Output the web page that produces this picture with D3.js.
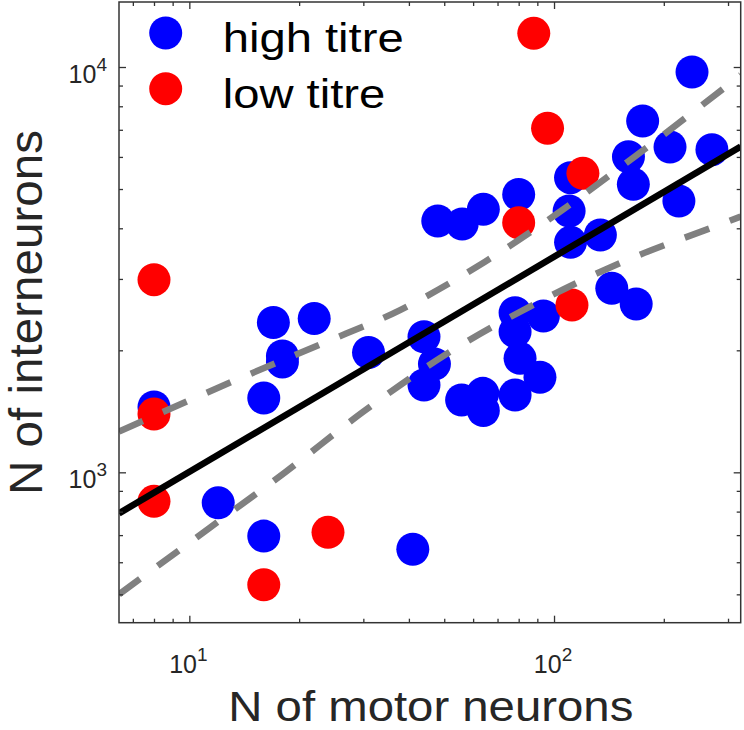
<!DOCTYPE html>
<html>
<head>
<meta charset="utf-8">
<script src="https://cdn.jsdelivr.net/npm/d3@7"></script>
<style>
  html, body { margin: 0; padding: 0; background: #fff; }
  svg { display: block; }
  text { font-family: "Liberation Sans", Arial, sans-serif; fill: #262626; }
</style>
</head>
<body>
<svg id="chart" width="744" height="730"></svg>
<script>
// ---- data ----
const xDomain = [6.414, 325];
const yDomain = [425.6, 14467];

const highX = [8, 12, 16, 16, 17, 22, 18, 18, 31, 41,
               44, 47, 44, 48, 56, 64, 80, 55.8, 63.8, 64,
               78.2, 93.5, 78.2, 80.7, 91.5, 78.2, 239, 175, 208, 271,
               160, 165, 111, 110, 220, 111, 134, 144, 168];
const highY = [1449, 841, 696, 1525, 2342, 2396, 1936, 1872, 1975, 646,
               2160, 1850, 1642, 4169, 4099, 4456, 4846, 1508, 1566, 1421,
               2476, 2430, 2223, 1911, 1716, 1551, 9720, 7360, 6347, 6252,
               6007, 5135, 5332, 4413, 4671, 3694, 3850, 2844, 2602];

const lowX = [88, 96, 120, 80, 112, 8, 8, 8, 24, 16];
const lowY = [12110, 7060, 5467, 4130, 2588, 2987, 1392, 848, 711, 528];

const fitX = [6.414, 325];
const fitY = [792, 6360];

const upperX = [6.414, 13.09, 22.97, 37.83, 64.7, 102.6, 168.6, 325];
const upperY = [1260, 1673, 2073, 2514, 3308, 4363, 6065, 9550];

const lowerX = [6.414, 11.32, 18.38, 30.0, 50.2, 85.9, 151.7, 291.2, 325];
const lowerY = [500, 727.5, 1003, 1411, 1947, 2565, 3284, 4116, 4276];

const xMajor = [10, 100];
const xMinor = [7, 8, 9, 20, 30, 40, 50, 60, 70, 80, 90, 200, 300];
const yMajor = [1000, 10000];
const yMinor = [500, 600, 700, 800, 900, 2000, 3000, 4000, 5000, 6000, 7000, 8000, 9000];
const xExp = ["1", "2"];
const yExp = ["3", "4"];

const legendLabels = ["high titre", "low titre"];
const seriesColors = ["#0000ff", "#ff0000"];

// ---- layout ----
const L = 119, R = 740.7, T = 2, B = 622.7;
const svg = d3.select("#chart");
const x = d3.scaleLog().domain(xDomain).range([L, R]);
const y = d3.scaleLog().domain(yDomain).range([B, T]);
const rad = 16.5;

svg.append("defs").append("clipPath").attr("id", "clip")
  .append("rect").attr("x", L).attr("y", T).attr("width", R - L).attr("height", B - T);

const plot = svg.append("g").attr("clip-path", "url(#clip)");

// points
const high = highX.map((v, i) => [v, highY[i]]);
const low = lowX.map((v, i) => [v, lowY[i]]);
plot.append("g").selectAll("circle").data(high).join("circle")
  .attr("cx", d => x(d[0])).attr("cy", d => y(d[1])).attr("r", rad)
  .attr("fill", seriesColors[0]);
plot.append("g").selectAll("circle").data(low).join("circle")
  .attr("cx", d => x(d[0])).attr("cy", d => y(d[1])).attr("r", rad)
  .attr("fill", seriesColors[1]);

// lines
const lineGen = d3.line().x(d => x(d[0])).y(d => y(d[1])).curve(d3.curveMonotoneX);
const band = (xs, ys) => xs.map((v, i) => [v, ys[i]]);
plot.append("path").datum(band(upperX, upperY)).attr("d", lineGen)
  .attr("fill", "none").attr("stroke", "#808080").attr("stroke-width", 6.5)
  .attr("stroke-dasharray", "26,22");
plot.append("path").datum(band(lowerX, lowerY)).attr("d", lineGen)
  .attr("fill", "none").attr("stroke", "#808080").attr("stroke-width", 6.5)
  .attr("stroke-dasharray", "26,22");
plot.append("path").datum(band(fitX, fitY)).attr("d", d3.line().x(d => x(d[0])).y(d => y(d[1])))
  .attr("fill", "none").attr("stroke", "#000").attr("stroke-width", 6.5);

// axes (ticks inward on all four sides)
function styleAxis(g) {
  g.select(".domain").remove();
  g.selectAll(".tick line").attr("stroke", "#333").attr("stroke-width", 1.3);
  g.selectAll(".tick text").remove();
}
const axes = [
  [d3.axisBottom(x), `translate(0,${B})`],
  [d3.axisTop(x), `translate(0,${T})`],
];
axes.forEach(([ax, tr]) => {
  svg.append("g").attr("transform", tr).call(ax.tickValues(xMajor).tickSize(-7).tickFormat("")).call(styleAxis);
  svg.append("g").attr("transform", tr).call(ax.tickValues(xMinor).tickSize(-4).tickFormat("")).call(styleAxis);
});
const yaxes = [
  [d3.axisLeft(y), `translate(${L},0)`],
  [d3.axisRight(y), `translate(${R},0)`],
];
yaxes.forEach(([ax, tr]) => {
  svg.append("g").attr("transform", tr).call(ax.tickValues(yMajor).tickSize(-7).tickFormat("")).call(styleAxis);
  svg.append("g").attr("transform", tr).call(ax.tickValues(yMinor).tickSize(-4).tickFormat("")).call(styleAxis);
});

// box
svg.append("rect").attr("x", L).attr("y", T).attr("width", R - L).attr("height", B - T)
  .attr("fill", "none").attr("stroke", "#333").attr("stroke-width", 1.5);

// tick labels
xMajor.forEach((v, i) => {
  const t = svg.append("text").attr("x", x(v) - 1).attr("y", 673)
    .attr("text-anchor", "middle").style("font-size", "25px");
  t.append("tspan").text("10");
  t.append("tspan").attr("dy", -12).style("font-size", "19px").text(xExp[i]);
});
yMajor.forEach((v, i) => {
  const t = svg.append("text").attr("x", 107).attr("y", y(v) + 16)
    .attr("text-anchor", "end").style("font-size", "25px");
  t.append("tspan").text("10");
  t.append("tspan").attr("dy", -12).style("font-size", "19px").text(yExp[i]);
});

// axis labels
svg.append("text").attr("x", 228.3).attr("y", 720.5)
  .attr("textLength", 405).attr("lengthAdjust", "spacingAndGlyphs")
  .style("font-size", "43px").text("N of motor neurons");
svg.append("text").attr("transform", "translate(42,495) rotate(-90)")
  .attr("textLength", 365).attr("lengthAdjust", "spacingAndGlyphs")
  .style("font-size", "46px").text("N of interneurons");

// legend
const legY = [33, 88.7];
const legW = [181, 162.6];
legendLabels.forEach((lab, i) => {
  svg.append("circle").attr("cx", 165.7).attr("cy", legY[i]).attr("r", rad).attr("fill", seriesColors[i]);
  svg.append("text").attr("x", 222.7).attr("y", legY[i] + 19)
    .attr("textLength", legW[i]).attr("lengthAdjust", "spacingAndGlyphs")
    .style("font-size", "41px").style("fill", "#000").text(lab);
});
</script>
</body>
</html>
